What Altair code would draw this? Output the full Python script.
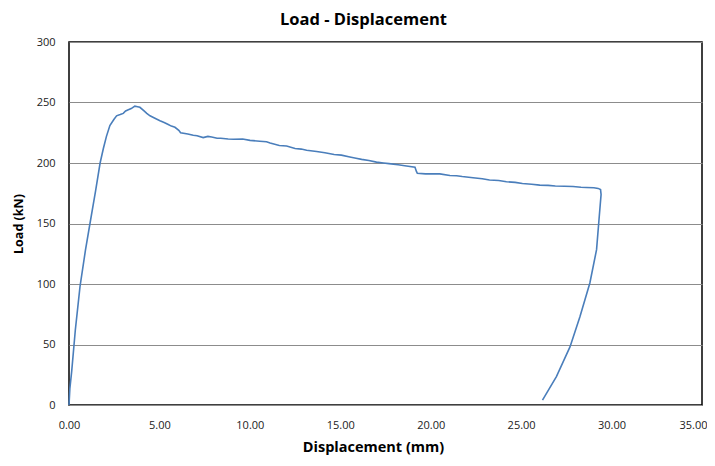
import altair as alt
import pandas as pd

displacement = [0, 0.05, 0.15, 0.35, 0.61, 0.91, 1.16, 1.47, 1.72, 1.9, 2.07, 2.26, 2.48, 2.63, 2.83, 3.0,
                3.13, 3.28, 3.44, 3.64, 3.79, 3.92, 4.15, 4.3, 4.48, 4.75, 5.03, 5.26, 5.46, 5.66, 5.86, 6.07, 6.17,
                6.57, 6.87, 7.08, 7.42, 7.68, 7.89, 8.19, 8.39, 8.8, 9.1, 9.6, 10.01, 10.55, 10.92, 11.12, 11.63, 12.03,
                12.5, 12.84, 13.14, 13.69, 14.15, 14.66, 15.06, 15.53, 15.87, 16.18, 16.58, 17.0, 17.39, 17.69,
                18.2, 18.66, 19.13, 19.21, 19.26, 19.71, 20.22, 20.5, 21.06, 21.43, 21.74, 22.34, 22.85, 23.25,
                23.76, 24.19, 24.67, 25.07, 25.58, 26.03, 26.49, 26.89, 27.4, 27.87, 28.31, 28.61, 29.02, 29.26,
                29.39, 29.42, 29.37, 29.32, 29.17, 28.8, 28.25, 27.7, 26.95, 26.18]
load = [0, 14, 28, 62, 98, 128, 150, 177, 200, 212, 222, 231, 236, 239, 240, 241,
        243, 244, 245, 247, 246.5, 246, 243, 241, 239, 237, 235, 233.5, 232, 230.5, 229.5, 227, 225,
        224, 223, 222.5, 221, 222, 221.5, 220.5, 220.5, 219.8, 219.6, 219.8, 218.7, 218, 217.5, 216.5, 214.5, 214,
        212, 211.5, 210.5, 209.5, 208.5, 207, 206.5, 205, 204, 203, 202, 200.7, 200, 199.5,
        198.5, 197.5, 196.5, 193, 191.5, 191, 191, 191, 189.7, 189.5, 188.8, 187.8, 187, 186,
        185.5, 184.5, 184, 183, 182.5, 181.7, 181.5, 181, 180.8, 180.6, 180, 179.8, 179.5, 179,
        178, 174, 165, 156, 128.4, 100.8, 73, 48, 23.4, 4]

x_ticks = [0, 5, 10, 15, 20, 25, 30, 35]
y_ticks = [0, 50, 100, 150, 200, 250, 300]

df = pd.DataFrame({"idx": list(range(len(load))), "d": displacement, "p": load})

chart = alt.Chart(df).mark_line(color="#4a7ebb", strokeWidth=1.6).encode(
    x=alt.X("d:Q", scale=alt.Scale(domain=[0, 35], nice=False, zero=True),
            axis=alt.Axis(title="Displacement (mm)", values=x_ticks,
                          format=".2f", grid=False, ticks=False, domain=False, labelFlush=False,
                          labelAlign=alt.expr("datum.value === 35 ? 'right' : 'center'"),
                          labelOffset=alt.expr("datum.value === 35 ? 5 : 0"),
                          labelPadding=14, titlePadding=10, titleFontSize=14.5, titleX=304)),
    y=alt.Y("p:Q", scale=alt.Scale(domain=[0, 300], nice=False),
            axis=alt.Axis(title="Load (kN)", values=y_ticks, labelFlush=False,
                          grid=True, ticks=False, domain=False, labelPadding=14, titlePadding=11,
                          titleFontSize=12.5)),
    order="idx:Q",
).properties(
    width=633, height=363,
    title=alt.TitleParams("Load - Displacement", fontSize=16.5, font="Open Sans", fontWeight="bold",
                          color="#000000", offset=8, anchor="middle", dx=-22),
    autosize=alt.AutoSizeParams(type="none"),
    padding={"left": 61, "top": 34, "right": 5, "bottom": 53},
).configure_view(
    stroke="#000000", strokeWidth=1.5
).configure_axis(
    labelFont="Open Sans", labelFontSize=11, labelColor="#222222",
    titleFont="Open Sans", titleFontWeight="bold", titleColor="#000000",
    gridColor="#8c8c8c", gridWidth=1, gridOpacity=1,
)

chart.save("out.html", embed_options={"renderer": "svg", "actions": False})
